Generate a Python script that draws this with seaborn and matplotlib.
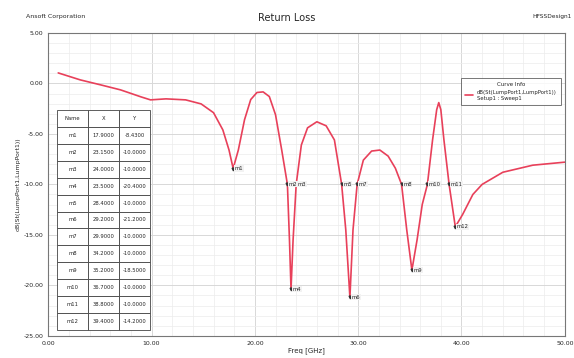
import matplotlib
matplotlib.use("Agg")
import matplotlib.pyplot as plt
import matplotlib.ticker as mticker
import pandas as pd
import seaborn as sns

# curve (GHz, dB)
freq = [0.97, 3.1, 5.1, 7.0, 9.0, 9.9, 11.4, 13.3, 14.8, 16.0, 16.9, 17.5, 17.9,
        18.4, 19.0, 19.6, 20.2, 20.8, 21.4, 22.0, 22.6, 23.15, 23.35, 23.5, 23.7,
        24.0, 24.5, 25.1, 26.0, 26.9, 27.7, 28.4, 28.8, 29.2, 29.5, 29.9, 30.5,
        31.3, 32.1, 32.9, 33.6, 34.2, 34.7, 35.2, 35.7, 36.2, 36.7, 37.2, 37.6, 37.8,
        38.0, 38.3, 38.8, 39.4, 40.1, 41.1, 42.0, 44.0, 46.9, 50.0]
s11 = [1.04, 0.35, -0.15, -0.64, -1.34, -1.63, -1.53, -1.63, -2.03, -2.9, -4.6, -6.6, -8.43,
       -6.6, -3.6, -1.6, -0.9, -0.84, -1.3, -3.1, -6.6, -10.0, -15.5, -20.4, -15.5,
       -10.0, -6.1, -4.4, -3.8, -4.2, -5.6, -10.0, -14.5, -21.2, -14.5, -10.0, -7.6,
       -6.7, -6.6, -7.2, -8.4, -10.0, -14.5, -18.5, -15.5, -12.0, -10.0, -5.6, -2.6, -1.9,
       -2.6, -5.6, -10.0, -14.2, -13.0, -11.0, -10.0, -8.8, -8.1, -7.8]

marker_names = ["m1", "m2", "m3", "m4", "m5", "m6", "m7", "m8", "m9", "m10", "m11", "m12"]
marker_x = [17.90, 23.15, 24.00, 23.50, 28.40, 29.20, 29.90, 34.20, 35.20, 36.70, 38.80, 39.40]
marker_y = [-8.43, -10.00, -10.00, -20.40, -10.00, -21.20, -10.00, -10.00, -18.50, -10.00, -10.00, -14.20]

df = pd.DataFrame({"Freq": freq, "dB": s11})

sns.set_style("white")
plt.rcParams["font.family"] = ["DejaVu Sans"]

fig = plt.figure(figsize=(5.74, 3.58), dpi=100)
ax = fig.add_axes([0.084, 0.062, 0.900, 0.846])

red = "#e8405a"
sns.lineplot(data=df, x="Freq", y="dB", ax=ax, color=red, linewidth=1.2, sort=False)

ax.set_xlim(0, 50)
ax.set_ylim(-25, 5)
ax.xaxis.set_major_locator(mticker.MultipleLocator(10))
ax.xaxis.set_minor_locator(mticker.MultipleLocator(2))
ax.yaxis.set_major_locator(mticker.MultipleLocator(5))
ax.yaxis.set_minor_locator(mticker.MultipleLocator(1))
ax.xaxis.set_major_formatter(mticker.FormatStrFormatter("%.2f"))
ax.yaxis.set_major_formatter(mticker.FormatStrFormatter("%.2f"))
ax.grid(which="major", color="#d8d8d8", linewidth=0.7)
ax.grid(which="minor", color="#ececec", linewidth=0.5)
ax.tick_params(which="both", direction="in", labelsize=4.5, length=3, color="#555555")
ax.tick_params(which="minor", length=1.5)
for s in ax.spines.values():
    s.set_color("#777777")
    s.set_linewidth(0.8)

ax.set_xlabel("Freq [GHz]", fontsize=5, labelpad=1)
ax.set_ylabel("dB(St(LumpPort1,LumpPort1))", fontsize=4.5, labelpad=2)

# marker labels on the curve
for n, mx, my in zip(marker_names, marker_x, marker_y):
    ax.plot(mx, my, marker="v", ms=2, color="#333333")
    ax.text(mx + 0.15, my, n, fontsize=3.8, va="center", ha="left", zorder=5,
            bbox=dict(boxstyle="square,pad=0.1", fc="#f2f2f2", ec="none"))

# marker table
cells = [[n, "%.4f" % x, "%.4f" % y] for n, x, y in zip(marker_names, marker_x, marker_y)]
tbl = ax.table(cellText=cells, colLabels=["Name", "X", "Y"], cellLoc="center",
               bbox=[0.017, 0.02, 0.18, 0.725])
tbl.auto_set_font_size(False)
tbl.set_fontsize(3.8)
tbl.set_zorder(6)
for c in tbl.get_celld().values():
    c.set_edgecolor("#444444")
    c.set_facecolor("white")
    c.set_linewidth(0.6)

# legend box
leg = ax.legend([ax.lines[0]], ["dB(St(LumpPort1,LumpPort1))\nSetup1 : Sweep1"],
                title="Curve Info", loc="upper right", bbox_to_anchor=(0.998, 0.86),
                fontsize=3.8, title_fontsize=4, frameon=True, fancybox=False,
                edgecolor="#555555", handlelength=1.5, borderpad=0.8)
leg.get_frame().set_linewidth(0.7)

fig.text(0.045, 0.955, "Ansoft Corporation", fontsize=4.5, ha="left", va="center")
fig.text(0.50, 0.95, "Return Loss", fontsize=7, ha="center", va="center")
fig.text(0.995, 0.955, "HFSSDesign1", fontsize=4.2, ha="right", va="center")

fig.savefig("out.png", dpi=100)
